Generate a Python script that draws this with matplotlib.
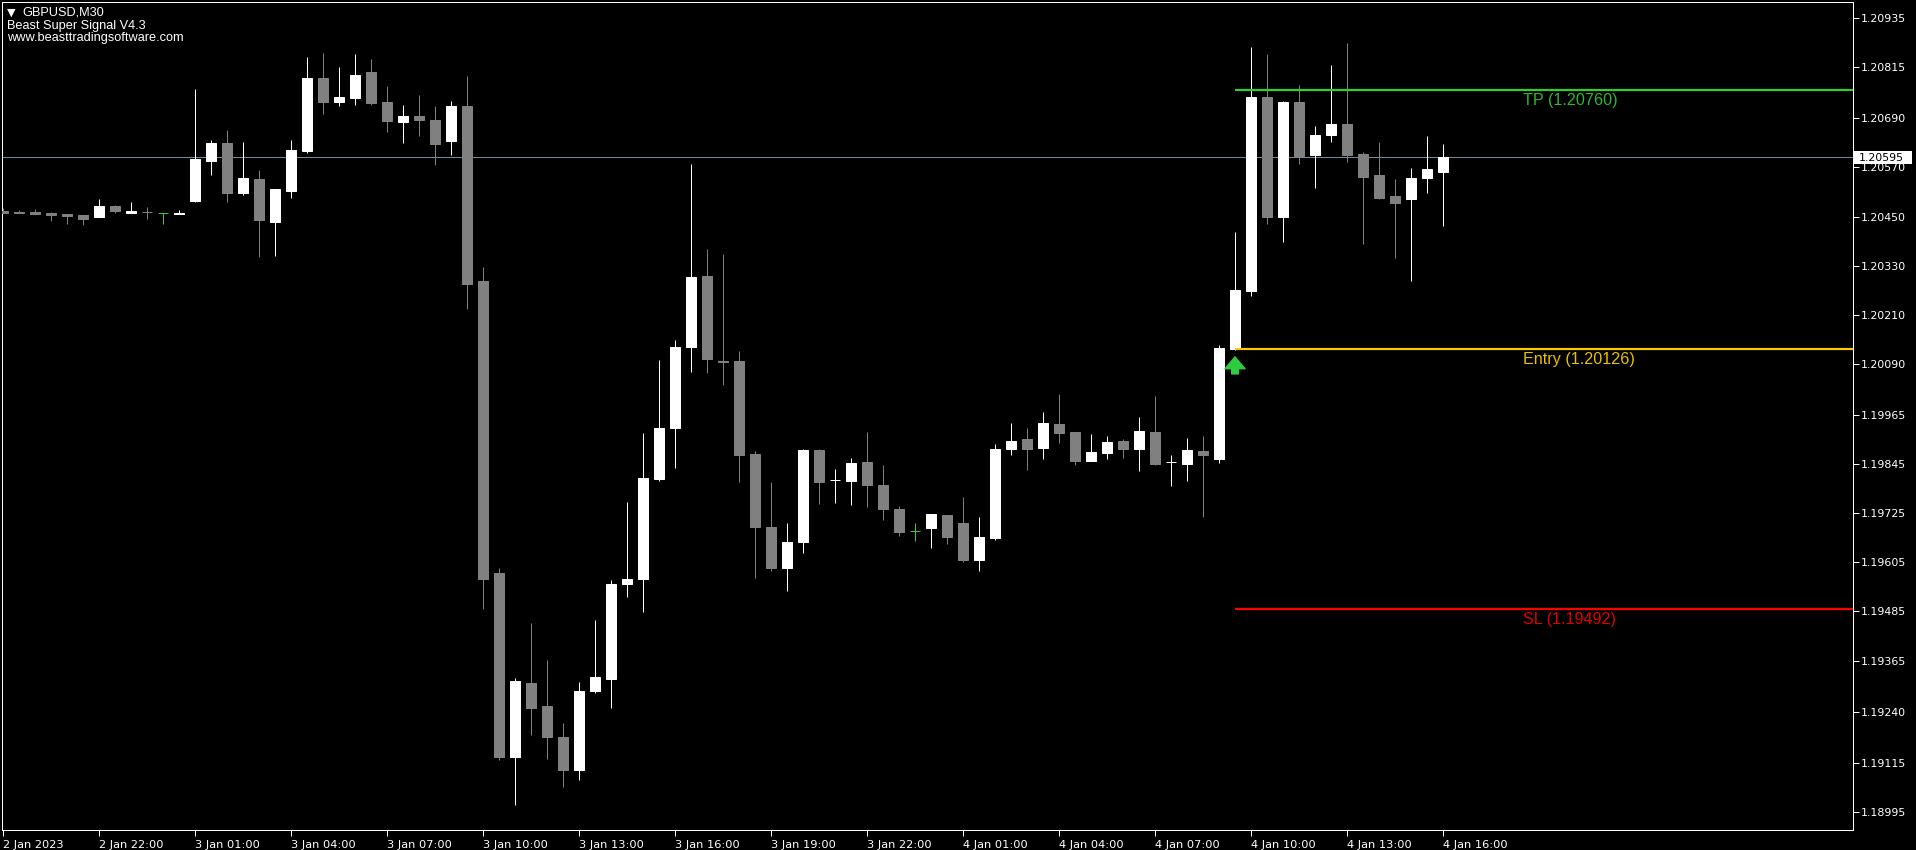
import matplotlib
matplotlib.use("Agg")
import matplotlib.pyplot as plt
import numpy as np
from matplotlib.transforms import blended_transform_factory
from matplotlib.patches import Rectangle

# ---------------- data ----------------
opens = [1.20464, 1.20462, 1.20461, 1.20459, 1.20456, 1.20454, 1.20449, 1.20476, 1.20459, 1.20462,
         1.20458, 1.20456, 1.20488, 1.20586, 1.20630, 1.20507, 1.20542, 1.20437, 1.20512, 1.20610,
         1.20788, 1.20730, 1.20740, 1.20803, 1.20730, 1.20681, 1.20696, 1.20686, 1.20634, 1.20720,
         1.20292, 1.19579, 1.19129, 1.19310, 1.19254, 1.19178, 1.19098, 1.19291, 1.19320, 1.19552,
         1.19564, 1.19809, 1.19933, 1.20131, 1.20305, 1.20096, 1.20096, 1.19870, 1.19691, 1.19591,
         1.19655, 1.19880, 1.19805, 1.19804, 1.19850, 1.19794, 1.19735, 1.19682, 1.19689, 1.19721,
         1.19701, 1.19611, 1.19665, 1.19882, 1.19906, 1.19884, 1.19943, 1.19923, 1.19853, 1.19872,
         1.19902, 1.19882, 1.19923, 1.19849, 1.19845, 1.19877, 1.19857, 1.20126, 1.20268, 1.20742,
         1.20449, 1.20730, 1.20600, 1.20649, 1.20676, 1.20603, 1.20551, 1.20500, 1.20493, 1.20544,
         1.20559]
highs = [1.20470, 1.20467, 1.20468, 1.20461, 1.20456, 1.20454, 1.20493, 1.20478, 1.20485, 1.20473,
         1.20458, 1.20466, 1.20761, 1.20637, 1.20661, 1.20632, 1.20564, 1.20517, 1.20637, 1.20840,
         1.20850, 1.20815, 1.20847, 1.20835, 1.20769, 1.20722, 1.20747, 1.20720, 1.20732, 1.20793,
         1.20327, 1.19591, 1.19322, 1.19457, 1.19366, 1.19213, 1.19313, 1.19464, 1.19562, 1.19752,
         1.19921, 1.20099, 1.20148, 1.20578, 1.20371, 1.20358, 1.20121, 1.19877, 1.19801, 1.19701,
         1.19882, 1.19882, 1.19833, 1.19860, 1.19924, 1.19843, 1.19743, 1.19701, 1.19723, 1.19721,
         1.19765, 1.19716, 1.19894, 1.19946, 1.19933, 1.19972, 1.20016, 1.19923, 1.19919, 1.19914,
         1.19906, 1.19960, 1.20011, 1.19867, 1.19909, 1.19914, 1.20136, 1.20412, 1.20864, 1.20847,
         1.20732, 1.20771, 1.20671, 1.20820, 1.20874, 1.20608, 1.20632, 1.20542, 1.20569, 1.20647,
         1.20627]
lows = [1.20459, 1.20459, 1.20456, 1.20440, 1.20432, 1.20430, 1.20449, 1.20459, 1.20459, 1.20444,
        1.20432, 1.20456, 1.20485, 1.20551, 1.20485, 1.20502, 1.20351, 1.20353, 1.20495, 1.20605,
        1.20700, 1.20720, 1.20722, 1.20722, 1.20656, 1.20630, 1.20647, 1.20576, 1.20600, 1.20224,
        1.19491, 1.19122, 1.19012, 1.19183, 1.19125, 1.19056, 1.19073, 1.19286, 1.19249, 1.19520,
        1.19484, 1.19804, 1.19836, 1.20070, 1.20068, 1.20038, 1.19801, 1.19567, 1.19584, 1.19535,
        1.19628, 1.19748, 1.19750, 1.19745, 1.19740, 1.19708, 1.19669, 1.19657, 1.19640, 1.19650,
        1.19606, 1.19584, 1.19660, 1.19867, 1.19831, 1.19857, 1.19897, 1.19843, 1.19853, 1.19857,
        1.19860, 1.19828, 1.19843, 1.19792, 1.19804, 1.19716, 1.19848, 1.20124, 1.20256, 1.20432,
        1.20388, 1.20578, 1.20520, 1.20632, 1.20583, 1.20383, 1.20493, 1.20349, 1.20292, 1.20507,
        1.20427]
closes = [1.20459, 1.20459, 1.20456, 1.20454, 1.20451, 1.20444, 1.20476, 1.20463, 1.20463, 1.20461,
          1.20458, 1.20459, 1.20590, 1.20630, 1.20507, 1.20544, 1.20441, 1.20517, 1.20612, 1.20788,
          1.20730, 1.20742, 1.20796, 1.20727, 1.20683, 1.20696, 1.20686, 1.20627, 1.20720, 1.20285,
          1.19564, 1.19129, 1.19315, 1.19249, 1.19178, 1.19098, 1.19291, 1.19325, 1.19552, 1.19564,
          1.19811, 1.19933, 1.20131, 1.20302, 1.20102, 1.20095, 1.19867, 1.19691, 1.19591, 1.19655,
          1.19880, 1.19801, 1.19806, 1.19848, 1.19794, 1.19735, 1.19679, 1.19682, 1.19723, 1.19667,
          1.19611, 1.19667, 1.19882, 1.19902, 1.19882, 1.19946, 1.19921, 1.19853, 1.19875, 1.19899,
          1.19882, 1.19926, 1.19845, 1.19850, 1.19880, 1.19867, 1.20128, 1.20270, 1.20742, 1.20449,
          1.20730, 1.20598, 1.20649, 1.20676, 1.20600, 1.20547, 1.20495, 1.20483, 1.20544, 1.20566,
          1.20595]

price_ticks = [1.20935, 1.20815, 1.20690, 1.20570, 1.20450, 1.20330, 1.20210, 1.20090, 1.19965,
               1.19845, 1.19725, 1.19605, 1.19485, 1.19365, 1.19240, 1.19115, 1.18995]
time_labels = ["2 Jan 2023", "2 Jan 22:00", "3 Jan 01:00", "3 Jan 04:00", "3 Jan 07:00",
               "3 Jan 10:00", "3 Jan 13:00", "3 Jan 16:00", "3 Jan 19:00", "3 Jan 22:00",
               "4 Jan 01:00", "4 Jan 04:00", "4 Jan 07:00", "4 Jan 10:00", "4 Jan 13:00",
               "4 Jan 16:00"]
bars_per_label = 6
signal_bar = 77
tp_price = 1.20760
entry_price = 1.20126
sl_price = 1.19492
bid_price = 1.20595

# ---------------- figure ----------------
W, H = 1916, 850
AX_L, AX_R, AX_T, AX_B = 2, 1853, 2, 830
fig = plt.figure(figsize=(W / 100, H / 100), dpi=100, facecolor="black")
ax = fig.add_axes([AX_L / W, (H - AX_B) / H, (AX_R - AX_L) / W, (AX_B - AX_T) / H],
                  facecolor="black")

o = np.array(opens); h = np.array(highs); l = np.array(lows); c = np.array(closes)
x = np.arange(len(o))
BULL, BEAR, DOJI = "#FFFFFF", "#808080", "#32CD32"
cols = np.where(c > o, BULL, np.where(c < o, BEAR, DOJI))
px = 0.72  # 1 pixel in points

ax.vlines(x, l, h, colors=cols, linewidth=px, zorder=3)
body = np.abs(c - o)
mask = c != o
ax.bar(x[mask], body[mask], bottom=np.minimum(o, c)[mask], width=0.625,
       color=cols[mask], edgecolor=cols[mask], linewidth=px, zorder=4)
dj = ~mask
ax.hlines(o[dj], x[dj] - 0.34, x[dj] + 0.34, colors=cols[dj], linewidth=px, zorder=4)

PPU = 40928.0  # pixels per price unit
xmin = (AX_L - 3) / 16
xmax = (AX_R - 3) / 16
ymax = 1.20935 + (18 - AX_T) / PPU
ymin = 1.20935 - (AX_B - 18) / PPU
ax.set_xlim(xmin, xmax)
ax.set_ylim(ymin, ymax)

# bid line
ax.axhline(bid_price, color="#778899", linewidth=px, zorder=2)

# TP / Entry / SL
levels = [("TP", tp_price, "#32CD32", "#2EB82E"),
          ("Entry", entry_price, "#FFC800", "#E8C200"),
          ("SL", sl_price, "#FF0000", "#E00000")]
for name, val, lc, tc in levels:
    ax.hlines(val, signal_bar, xmax, colors=lc, linewidth=1.6, zorder=5)
    ax.annotate(f"{name} ({val:.5f})", xy=(95, val), xytext=(0, -3),
                textcoords="offset pixels", ha="left", va="top", color=tc,
                fontsize=11.6, family=["Liberation Sans", "DejaVu Sans"], zorder=6)

# signal arrow below the signal bar
arrow_top = lows[signal_bar] - 7 / PPU
arrow_bot = lows[signal_bar] - 24 / PPU
ax.annotate("", xy=(signal_bar, arrow_top), xytext=(signal_bar, arrow_bot),
            arrowprops=dict(arrowstyle="simple,head_width=0.85,head_length=0.5,tail_width=0.28",
                            color="#2ECC40", mutation_scale=17, shrinkA=0, shrinkB=0),
            zorder=7)

# axes styling
for s in ax.spines.values():
    s.set_color("white")
    s.set_linewidth(px)
ax.yaxis.tick_right()
ax.set_yticks(price_ticks)
ax.set_yticklabels([f"{v:.5f}" for v in price_ticks])
ax.tick_params(axis="y", colors="white", length=4, width=px, pad=1.5, labelsize=7.9,
               labelfontfamily="DejaVu Sans")
ax.set_xticks(np.arange(len(time_labels)) * bars_per_label)
ax.set_xticklabels(time_labels)
ax.tick_params(axis="x", colors="white", length=4, width=px, pad=3, labelsize=8.2)
for lbl in ax.get_xticklabels():
    lbl.set_ha("left")
    lbl.set_family(["Liberation Sans Narrow", "DejaVu Sans"])

# current price label on the axis
tr = blended_transform_factory(ax.transAxes, ax.transData)
box_w = (1912 - AX_R - 1) / (AX_R - AX_L)
ax.add_patch(Rectangle((1.0 + 1.0 / (AX_R - AX_L), bid_price - 6.5 / PPU), box_w, 13 / PPU,
                       transform=tr, facecolor="white", edgecolor="none", clip_on=False,
                       zorder=10))
ax.text(1.0 + 6.0 / (AX_R - AX_L), bid_price, f"{bid_price:.5f}", transform=tr, ha="left",
        va="center_baseline", fontsize=7.9, family="DejaVu Sans", color="black", zorder=11,
        clip_on=False)

# header text
fig.text(7 / W, 1 - 12.5 / H, "\u25bc", color="white", fontsize=8, va="center", ha="left",
         family="DejaVu Sans")
fig.text(22 / W, 1 - 12.5 / H, "GBPUSD,M30", color="white", fontsize=9.2, va="center",
         ha="left", family="Liberation Sans")
fig.text(7 / W, 1 - 25.5 / H, "Beast Super Signal V4.3", color="white", fontsize=9.2,
         va="center", ha="left", family="Liberation Sans")
fig.text(7 / W, 1 - 37.5 / H, "www.beasttradingsoftware.com", color="white", fontsize=9.2,
         va="center", ha="left", family="Liberation Sans")

fig.savefig("out.png", dpi=100, facecolor="black")
